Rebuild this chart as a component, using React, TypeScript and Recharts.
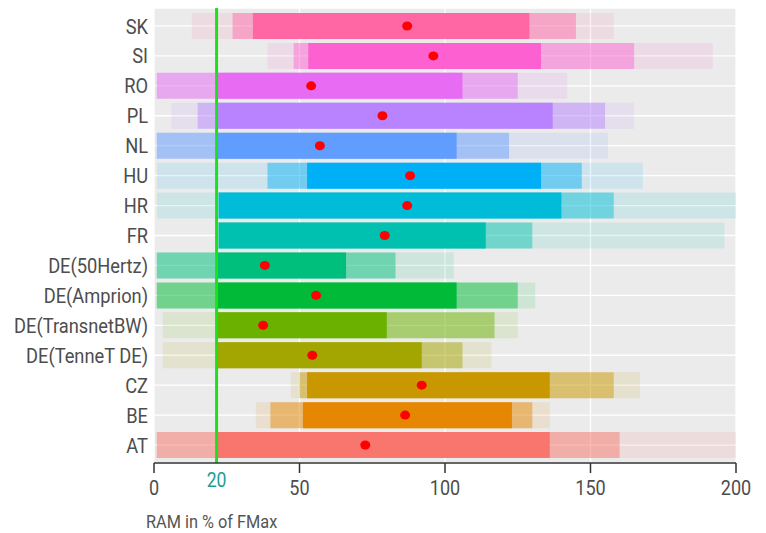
import { ComposedChart, Bar, Cell, Scatter, XAxis, YAxis, CartesianGrid, ReferenceLine } from 'recharts';

const categories = ['SK', 'SI', 'RO', 'PL', 'NL', 'HU', 'HR', 'FR', 'DE(50Hertz)', 'DE(Amprion)', 'DE(TransnetBW)', 'DE(TenneT DE)', 'CZ', 'BE', 'AT'];
const colors = ['#FF67A4', '#FD61D1', '#E76BF3', '#B983FF', '#619CFF', '#00B0F6', '#00BCD8', '#00C0AF', '#00BF7D', '#00BA38', '#6BB100', '#A3A500', '#C99800', '#E58700', '#F8766D'];

// dense part of each strip
const coreLo = [34, 53, 21.5, 22, 21.5, 52.6, 22.3, 22.3, 21.5, 21.5, 21.5, 21.5, 52.6, 51.2, 21.5];
const coreHi = [129, 133, 106, 137, 104, 133, 140, 114, 66, 104, 80, 92, 136, 123, 136];
// speckled fringe
const haloLo = [27, 48, 1, 15, 1, 39, 21.5, 21.5, 1, 1, 21.5, 21.5, 50, 40, 1];
const haloHi = [145, 165, 125, 155, 122, 147, 158, 130, 83, 125, 117, 106, 158, 130, 160];
// outermost scattered points
const sparseLo = [13, 39, 0.5, 6, 0.5, 1, 1, 21.5, 0.5, 0.5, 3, 3, 47, 35, 0.5];
const sparseHi = [158, 192, 142, 165, 156, 168, 200, 196, 103, 131, 125, 116, 167, 136, 200];
// mean RAM
const means = [87, 96, 54, 78.5, 57, 88, 87, 79.3, 38.1, 55.7, 37.5, 54.4, 92, 86.3, 72.6];

const xTicks = [0, 50, 100, 150, 200];
const threshold = 21.5;

const data = categories.map((name, i) => ({
  name,
  sparse: [sparseLo[i], sparseHi[i]],
  halo: [haloLo[i], haloHi[i]],
  core: [coreLo[i], coreHi[i]],
  mean: means[i],
}));

const font = 'Roboto, "DejaVu Sans", sans-serif';

const YTick = ({ x, y, payload }: any) => (
  <text transform={`translate(${x + 2} ${y}) scale(0.87 1)`} textAnchor="end" dy="0.36em" fontSize={21} fontFamily={font} fill="#4D4D4D">
    {payload.value}
  </text>
);

const XTick = ({ x, y, payload }: any) => (
  <text transform={`translate(${x} ${y + 20}) scale(0.86 1)`} textAnchor="middle" fontSize={21} fontFamily={font} fill="#4D4D4D">
    {payload.value}
  </text>
);

export default function App() {
  return (
    <>
      <style>{'body{margin:0}'}</style>
      <ComposedChart width={766} height={533} data={data} layout="vertical" barGap={-26} margin={{ top: 8, right: 30, bottom: 0, left: 0 }}>
        <CartesianGrid fill="#EBEBEB" stroke="#FFFFFF" strokeWidth={1.3} />
        <XAxis type="number" domain={[0, 200]} ticks={xTicks} height={70} tick={<XTick />} tickSize={10} stroke="#333333" strokeWidth={1.5}
          label={{ content: (p: any) => (
            <text transform={`translate(${p.viewBox.x - 8} ${p.viewBox.y + 65}) scale(0.86 1)`} fontSize={19} fontFamily={font} fill="#555555">RAM in % of FMax</text>
          ) }} />
        <YAxis type="category" dataKey="name" width={154} axisLine={false} tickLine={false} tick={<YTick />} padding={{ top: 3, bottom: 3 }} interval={0} />
        <Bar dataKey="sparse" barSize={26} isAnimationActive={false}>
          {data.map((d, i) => <Cell key={d.name} fill={colors[i]} fillOpacity={0.12} />)}
        </Bar>
        <Bar dataKey="halo" barSize={26} isAnimationActive={false}>
          {data.map((d, i) => <Cell key={d.name} fill={colors[i]} fillOpacity={0.45} />)}
        </Bar>
        <Bar dataKey="core" barSize={26} isAnimationActive={false}>
          {data.map((d, i) => <Cell key={d.name} fill={colors[i]} />)}
        </Bar>
        <ReferenceLine x={threshold} stroke="#1EE01E" strokeWidth={3}
          label={{ content: (p: any) => (
            <text transform={`translate(${p.viewBox.x} ${p.viewBox.y + p.viewBox.height + 24}) scale(0.88 1)`} textAnchor="middle" fontSize={20} fontFamily={font} fill="#1A9E96">20</text>
          ) }} />
        <Scatter dataKey="mean" isAnimationActive={false}
          shape={(p: any) => <ellipse cx={p.cx} cy={p.cy} rx={5} ry={4.5} fill="#FF0000" />} />
      </ComposedChart>
    </>
  );
}
